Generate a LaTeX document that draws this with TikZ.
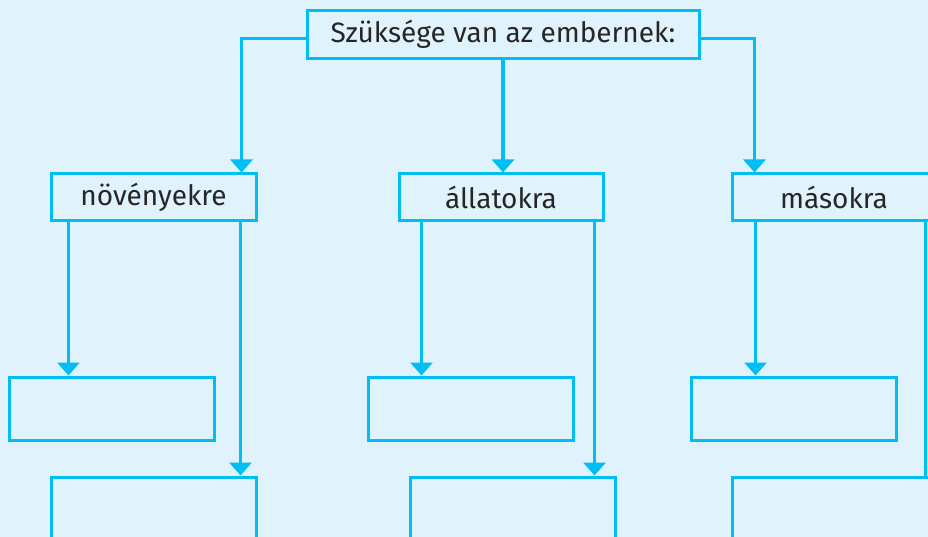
\documentclass[tikz,border=0pt]{standalone}
\usepackage{fontspec}
\setmainfont{Fira Sans}
\usepackage{tikz}
\usetikzlibrary{positioning,arrows.meta}
\usepackage{xcolor}

\definecolor{bgblue}{HTML}{E0F3FC}
\definecolor{lineblue}{HTML}{00BEF2}
\definecolor{txtgray}{HTML}{262626}

\tikzset{
  box/.style={draw=lineblue,line width=3pt,minimum width=205pt,minimum height=47pt,inner sep=0pt,
    text=txtgray,font=\fontsize{28}{32}\selectfont},
  emptybox/.style={box,minimum height=63pt},
  line/.style={lineblue,line width=3.5pt},
  arr/.style={line,-{Triangle[width=22pt,length=13pt]}}
}

\begin{document}
\begin{tikzpicture}[x=1pt,y=-1pt]
\useasboundingbox (0,0) rectangle (928,537);
\fill[bgblue] (0,0) rectangle (928,537);
\clip (0,0) rectangle (928,537);

\node[box,minimum width=392pt,minimum height=48pt] (top) at (503,34.5) {Szüksége van az embernek:};

\node[box] (nov) at (153.5,197.5) {növényekre};
\node[box,minimum width=204pt] (all) at (501,197.5) {állatokra};
\node[box,minimum width=204pt] (mas) at (834,197.5) {másokra};

\node[emptybox] (novA) at (111.5,408.5) {};
\node[emptybox] (allA) at (471,408.5) {};
\node[emptybox] (masA) at (794,408.5) {};

\node[box,minimum height=100pt] (novB) at (153.5,527) {};
\node[box,minimum height=100pt] (allB) at (512.5,527) {};
\node[box,minimum height=100pt] (masB) at (834.5,527) {};

% felso szint
\draw[arr] ([yshift=-4pt]top.west) -| ([xshift=-16pt]nov.north east);
\draw[arr] (top.south) -- (top.south |- all.north);
\draw[arr] ([yshift=-4pt]top.east) -| ([xshift=24pt]mas.north west);

% also szint
\draw[arr] ([xshift=19pt]nov.south west) -- ([xshift=19pt]nov.south west |- novA.north);
\draw[arr] ([xshift=-17pt]nov.south east) -- ([xshift=-17pt]nov.south east |- novB.north);

\draw[arr] ([xshift=24pt]all.south west) -- ([xshift=24pt]all.south west |- allA.north);
\draw[arr] ([xshift=-10pt]all.south east) -- ([xshift=-10pt]all.south east |- allB.north);

\draw[arr] ([xshift=25pt]mas.south west) -- ([xshift=25pt]mas.south west |- masA.north);
\draw[line] ([xshift=-12pt]mas.south east) -- ([xshift=-12pt]mas.south east |- masB.north);
\end{tikzpicture}
\end{document}
